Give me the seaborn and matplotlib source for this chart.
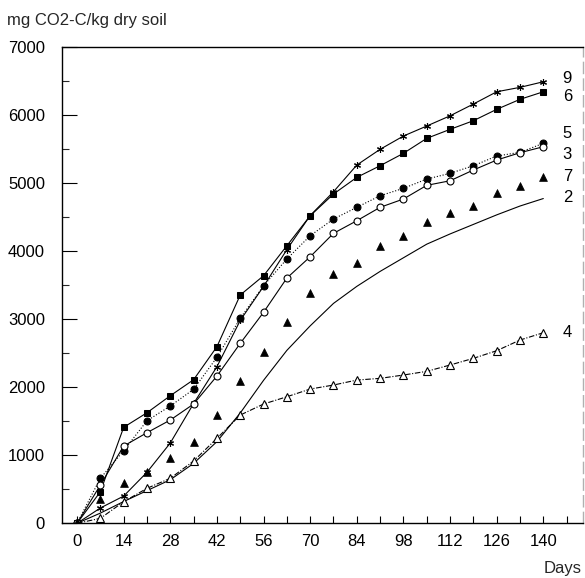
import matplotlib
matplotlib.use("Agg")
import matplotlib.pyplot as plt
import seaborn as sns
import numpy as np

days = [0, 7, 14, 21, 28, 35, 42, 49, 56, 63, 70, 77, 84, 91, 98, 105, 112, 119, 126, 133, 140]

s9 = [0, 225, 400, 750, 1180, 1760, 2300, 2980, 3480, 4020, 4520, 4870, 5262, 5493, 5688, 5835, 5985, 6158, 6338, 6403, 6485]
s6 = [0, 464, 1410, 1624, 1874, 2109, 2594, 3353, 3636, 4077, 4517, 4836, 5081, 5252, 5434, 5654, 5786, 5913, 6080, 6227, 6338]
s5 = [0, 661, 1066, 1507, 1723, 1968, 2438, 3011, 3489, 3882, 4224, 4469, 4641, 4811, 4920, 5056, 5140, 5252, 5394, 5449, 5581]
s3 = [0, 562, 1135, 1331, 1517, 1752, 2163, 2643, 3099, 3602, 3915, 4259, 4444, 4641, 4763, 4964, 5031, 5189, 5335, 5443, 5531]
s7 = [0, 352, 596, 758, 955, 1198, 1590, 2090, 2520, 2952, 3378, 3661, 3827, 4072, 4219, 4429, 4561, 4660, 4846, 4958, 5090]
s2 = [0, 150, 320, 480, 640, 880, 1200, 1620, 2100, 2540, 2900, 3230, 3480, 3700, 3900, 4100, 4250, 4390, 4530, 4660, 4770]
s4 = [0, 73, 317, 514, 661, 915, 1248, 1590, 1752, 1859, 1972, 2031, 2104, 2129, 2178, 2232, 2325, 2423, 2535, 2692, 2799]

series_names = ["9", "6", "5", "3", "7", "2", "4"]
label_y = [6535, 6275, 5727, 5419, 5090, 4782, 2799]

xticks = [0, 14, 28, 42, 56, 70, 84, 98, 112, 126, 140]
yticks = [0, 1000, 2000, 3000, 4000, 5000, 6000, 7000]

sns.set_theme(style="white")
plt.rcParams['font.family'] = ['Liberation Sans', 'DejaVu Sans']

fig = plt.figure(figsize=(5.85, 5.78), dpi=100)
ax = fig.add_axes([0.1055, 0.0946, 0.891, 0.8246])

lw = 0.8
common = dict(ax=ax, color="black", linewidth=lw, markeredgecolor="black", legend=False)

sns.lineplot(x=days, y=s9, marker=(6, 2, 0), markersize=5, markeredgewidth=0.8,
             linestyle="-", **common)
sns.lineplot(x=days, y=s6, marker="s", markersize=4.5, markerfacecolor="black",
             linestyle="-", **common)
sns.lineplot(x=days, y=s5, marker="o", markersize=5, markerfacecolor="black",
             linestyle=":", **common)
sns.lineplot(x=days, y=s3, marker="o", markersize=5, markerfacecolor="white",
             markeredgewidth=0.8, linestyle="-", **common)
sns.scatterplot(x=days, y=s7, marker="^", s=32, color="black", edgecolor="black",
                linewidth=0.5, ax=ax, legend=False, zorder=3)
sns.lineplot(x=days, y=s2, linestyle="-", ax=ax, color="black", linewidth=lw, legend=False)
sns.lineplot(x=days, y=s4, marker="^", markersize=5.5, markerfacecolor="white",
             markeredgewidth=0.8, dashes=(5, 1.5, 1, 1.5), **common)

for name, yv in zip(series_names, label_y):
    ax.text(145.8, yv, name, ha="left", va="center", fontsize=12, color="black")

ax.set_xlim(-4.6, 151.9)
ax.set_ylim(0, 7000)
ax.set_xticks(xticks)
ax.set_xticklabels([str(t) for t in xticks])
ax.set_yticks(yticks)
ax.set_yticklabels([str(t) for t in yticks])
ax.set_xticks(np.arange(7, 150, 14), minor=True)
ax.set_yticks(np.arange(500, 7000, 1000), minor=True)
ax.tick_params(axis="x", which="both", direction="in", length=5, width=0.8,
               labelsize=12, pad=8, colors="black", bottom=True)
ax.tick_params(axis="y", which="major", direction="in", length=11, width=0.8,
               labelsize=12, pad=12, colors="black", left=True)
ax.tick_params(axis="y", which="minor", direction="in", length=5, width=0.8, left=True)
ax.set_xlabel("")
ax.set_ylabel("")

for side in ["left", "bottom", "top"]:
    ax.spines[side].set_color("black")
    ax.spines[side].set_linewidth(1.0)
ax.spines["right"].set_color("#b0b0b0")
ax.spines["right"].set_linewidth(1.0)
ax.spines["right"].set_linestyle((0, (8, 4)))

fig.text(0.012, 1 - 20 / 578, "mg CO2-C/kg dry soil", ha="left", va="center", fontsize=12)
fig.text(582 / 585, 1 - 568 / 578, "Days", ha="right", va="center", fontsize=12)

fig.savefig("out.png", dpi=100)
